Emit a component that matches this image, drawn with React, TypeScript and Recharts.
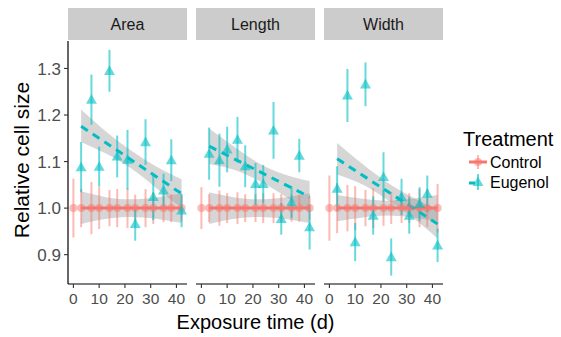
import React from "react";
import { ComposedChart, Scatter, Line, Area, XAxis, YAxis, ErrorBar } from "recharts";

// ---------- data ----------
const controlDays = [0, 3, 7, 10, 14, 17, 21, 24, 28, 31, 35, 38, 42];
const eugenolDays = [3, 7, 10, 14, 17, 21, 24, 28, 31, 35, 38, 42];
const panelNames = ["Area", "Length", "Width"];
const xTicks = [0, 10, 20, 30, 40];
const yTicks = [0.9, 1.0, 1.1, 1.2, 1.3];

const controlArea = [1, 1, 1, 1, 1, 1, 1, 1, 1, 1, 1, 1, 1];
const controlAreaErr = [0.063, 0.041, 0.056, 0.045, 0.039, 0.041, 0.043, 0.029, 0.041, 0.034, 0.03, 0.03, 0.027];
const eugenolArea = [1.088, 1.233, 1.089, 1.295, 1.111, 1.104, 0.966, 1.142, 1.024, 1.038, 1.103, 0.995];
const eugenolAreaErr = [0.054, 0.054, 0.043, 0.045, 0.045, 0.064, 0.036, 0.049, 0.05, 0.036, 0.045, 0.036];

const controlLength = [1, 1, 1, 1, 1, 1, 1, 1, 1, 1, 1, 1, 1];
const controlLengthErr = [0.045, 0.03, 0.038, 0.032, 0.034, 0.03, 0.03, 0.032, 0.032, 0.03, 0.029, 0.029, 0.025];
const eugenolLength = [1.117, 1.103, 1.126, 1.147, 1.09, 1.052, 1.052, 1.167, 0.977, 1.013, 1.113, 0.959];
const eugenolLengthErr = [0.056, 0.057, 0.049, 0.049, 0.045, 0.045, 0.041, 0.061, 0.034, 0.034, 0.036, 0.048];

const controlWidth = [1, 1, 1, 1, 1, 1, 1, 1, 1, 1, 1, 1, 1];
const controlWidthErr = [0.07, 0.054, 0.05, 0.047, 0.039, 0.043, 0.038, 0.034, 0.032, 0.032, 0.041, 0.041, 0.052];
const eugenolWidth = [1.042, 1.242, 0.927, 1.266, 0.984, 1.067, 0.895, 1.024, 0.984, 1.009, 1.031, 0.92];
const eugenolWidthErr = [0.048, 0.057, 0.041, 0.047, 0.041, 0.053, 0.04, 0.039, 0.039, 0.036, 0.039, 0.036];

// fitted trend lines (read at the ends)
const fitDays = [3, 42];
const controlFitArea = [1.0, 1.0];
const controlFitLength = [1.0, 1.0];
const controlFitWidth = [1.0, 1.0];
const eugenolFitArea = [1.176, 1.031];
const eugenolFitLength = [1.133, 1.024];
const eugenolFitWidth = [1.106, 0.966];

// confidence bands, read at a few days
const bandDays = [3, 13, 22.5, 32, 42];
const controlBandArea = [[0.966, 1.036], [0.977, 1.023], [0.981, 1.019], [0.977, 1.023], [0.968, 1.032]];
const controlBandLength = [[0.966, 1.034], [0.977, 1.023], [0.981, 1.019], [0.977, 1.023], [0.968, 1.032]];
const controlBandWidth = [[0.972, 1.028], [0.98, 1.02], [0.984, 1.016], [0.98, 1.02], [0.972, 1.028]];
const eugenolBandArea = [[1.142, 1.212], [1.116, 1.163], [1.085, 1.123], [1.044, 1.09], [1.0, 1.062]];
const eugenolBandLength = [[1.095, 1.171], [1.082, 1.131], [1.058, 1.096], [1.027, 1.073], [0.99, 1.058]];
const eugenolBandWidth = [[1.072, 1.14], [1.05, 1.094], [1.018, 1.055], [0.981, 1.024], [0.935, 0.997]];

// ---------- style ----------
const FONT = "'Liberation Sans', Arial, Helvetica, sans-serif";
const RED = "#F8766D";
const TEAL = "#00BFC4";
const W = 561;
const H = 337;
const PANEL_TOP = 41;
const PANEL_BOTTOM = 284;
const panelX = [
  [68, 187],
  [196, 315],
  [324, 443],
];

const zip = (xs: number[], ys: number[], es?: number[]) =>
  xs.map((x, i) => ({ x, y: ys[i], err: es ? es[i] : 0 }));
const zipBand = (xs: number[], bs: number[][]) => xs.map((x, i) => ({ x, band: bs[i] }));

const panels = [
  {
    control: zip(controlDays, controlArea, controlAreaErr),
    eugenol: zip(eugenolDays, eugenolArea, eugenolAreaErr),
    cFit: zip(fitDays, controlFitArea),
    eFit: zip(fitDays, eugenolFitArea),
    cBand: zipBand(bandDays, controlBandArea),
    eBand: zipBand(bandDays, eugenolBandArea),
  },
  {
    control: zip(controlDays, controlLength, controlLengthErr),
    eugenol: zip(eugenolDays, eugenolLength, eugenolLengthErr),
    cFit: zip(fitDays, controlFitLength),
    eFit: zip(fitDays, eugenolFitLength),
    cBand: zipBand(bandDays, controlBandLength),
    eBand: zipBand(bandDays, eugenolBandLength),
  },
  {
    control: zip(controlDays, controlWidth, controlWidthErr),
    eugenol: zip(eugenolDays, eugenolWidth, eugenolWidthErr),
    cFit: zip(fitDays, controlFitWidth),
    eFit: zip(fitDays, eugenolFitWidth),
    cBand: zipBand(bandDays, controlBandWidth),
    eBand: zipBand(bandDays, eugenolBandWidth),
  },
];

const Dot = (props: any) => {
  const { cx, cy } = props;
  if (cx == null || cy == null) return null;
  return <circle cx={cx} cy={cy} r={4} fill={RED} fillOpacity={0.5} />;
};

const Tri = (props: any) => {
  const { cx, cy } = props;
  if (cx == null || cy == null) return null;
  const s = 5.5;
  return (
    <polygon
      points={`${cx},${cy - s} ${cx - s},${cy + s * 0.75} ${cx + s},${cy + s * 0.75}`}
      fill={TEAL}
      fillOpacity={0.6}
    />
  );
};

const xTickStyle = { fontSize: 15.5, fill: "#4d4d4d", fontFamily: FONT };
const yTickStyle = { fontSize: 17, fill: "#4d4d4d", fontFamily: FONT };

function Panel({ idx }: { idx: number }) {
  const p = panels[idx];
  const [l, r] = panelX[idx];
  const first = idx === 0;
  const yAxisW = 60;
  return (
    <div style={{ position: "absolute", left: 0, top: 0, width: W, height: H }}>
      <ComposedChart
        width={W}
        height={H}
        margin={{
          top: PANEL_TOP,
          bottom: H - PANEL_BOTTOM - 40,
          left: first ? l - yAxisW : l,
          right: W - r,
        }}
      >
        <XAxis
          dataKey="x"
          type="number"
          domain={[-2.1, 44.1]}
          ticks={xTicks}
          allowDataOverflow
          height={40}
          tick={xTickStyle}
          tickSize={4}
          tickMargin={5}
          axisLine={{ stroke: "#000", strokeWidth: 1.2 }}
          tickLine={{ stroke: "#333", strokeWidth: 1.1 }}
        />
        <YAxis
          type="number"
          domain={[0.837, 1.359]}
          ticks={yTicks}
          allowDataOverflow
          hide={!first}
          width={yAxisW}
          tick={yTickStyle}
          tickFormatter={(v: number) => v.toFixed(1)}
          tickSize={4}
          tickMargin={3}
          axisLine={{ stroke: "#000", strokeWidth: 1.2 }}
          tickLine={{ stroke: "#333", strokeWidth: 1.1 }}
        />
        <Scatter data={p.control} dataKey="y" shape={Dot} isAnimationActive={false}>
          <ErrorBar dataKey="err" direction="y" width={0} stroke={RED} strokeOpacity={0.5} strokeWidth={2} />
        </Scatter>
        <Scatter data={p.eugenol} dataKey="y" shape={Tri} isAnimationActive={false}>
          <ErrorBar dataKey="err" direction="y" width={0} stroke={TEAL} strokeOpacity={0.6} strokeWidth={2} />
        </Scatter>
        <Area
          data={p.cBand}
          dataKey="band"
          type="natural"
          stroke="none"
          fill="#999999"
          fillOpacity={0.4}
          isAnimationActive={false}
        />
        <Area
          data={p.eBand}
          dataKey="band"
          type="natural"
          stroke="none"
          fill="#999999"
          fillOpacity={0.4}
          isAnimationActive={false}
        />
        <Line
          data={p.cFit}
          dataKey="y"
          stroke={RED}
          strokeWidth={3}
          dot={false}
          isAnimationActive={false}
        />
        <Line
          data={p.eFit}
          dataKey="y"
          stroke={TEAL}
          strokeWidth={3}
          strokeDasharray="8 6"
          dot={false}
          isAnimationActive={false}
        />
      </ComposedChart>
    </div>
  );
}

export default function App() {
  return (
    <div
      style={{
        position: "absolute",
        left: 0,
        top: 0,
        width: W,
        height: H,
        background: "#fff",
        fontFamily: FONT,
        overflow: "hidden",
      }}
    >
      {panelNames.map((_, i) => (
        <Panel key={i} idx={i} />
      ))}
      <svg
        width={W}
        height={H}
        style={{ position: "absolute", left: 0, top: 0, pointerEvents: "none" }}
        fontFamily={FONT}
      >
        {panelNames.map((name, i) => (
          <g key={name}>
            <rect x={panelX[i][0]} y={8} width={panelX[i][1] - panelX[i][0]} height={32} fill="#cccccc" />
            <text
              x={(panelX[i][0] + panelX[i][1]) / 2}
              y={29.5}
              textAnchor="middle"
              fontSize={16}
              fill="#1a1a1a"
            >
              {name}
            </text>
          </g>
        ))}
        <text x={255.5} y={329} textAnchor="middle" fontSize={20} fill="#000">
          Exposure time (d)
        </text>
        <text
          x={0}
          y={0}
          transform={`translate(28.5,160) rotate(-90)`}
          textAnchor="middle"
          fontSize={21}
          fill="#000"
        >
          Relative cell size
        </text>
        {/* legend */}
        <text x={463} y={146} fontSize={20} fill="#000">
          Treatment
        </text>
        <line x1={469} y1={162} x2={487} y2={162} stroke={RED} strokeWidth={3} />
        <line x1={478} y1={155} x2={478} y2={169} stroke={RED} strokeOpacity={0.5} strokeWidth={2} />
        <circle cx={478} cy={162} r={4} fill={RED} fillOpacity={0.5} />
        <text x={490} y={168} fontSize={16} fill="#000">
          Control
        </text>
        <line x1={469} y1={183} x2={475} y2={183} stroke={TEAL} strokeWidth={3} />
        <line x1={478} y1={174} x2={478} y2={190} stroke={TEAL} strokeOpacity={0.6} strokeWidth={2} />
        <polygon points="478,176.5 472.5,186 483.5,186" fill={TEAL} fillOpacity={0.6} />
        <text x={490} y={188} fontSize={16} fill="#000">
          Eugenol
        </text>
      </svg>
    </div>
  );
}
